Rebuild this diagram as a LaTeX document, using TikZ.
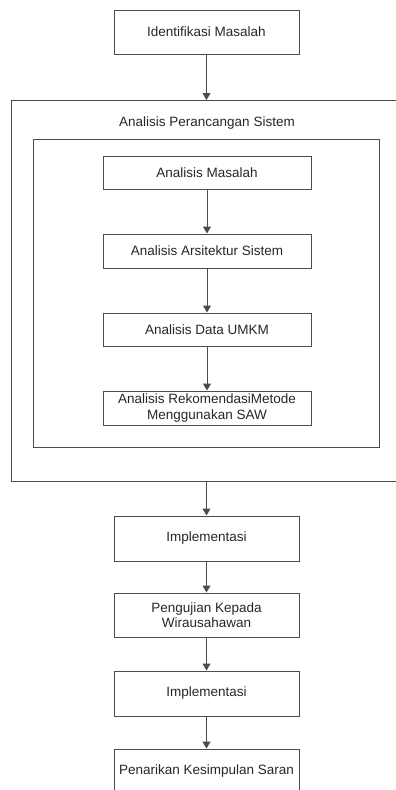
\documentclass[tikz,border=0pt]{standalone}
\usepackage{fontspec}
\setmainfont{Liberation Sans}
\usetikzlibrary{arrows.meta}

\tikzset{
  box/.style={draw=black!70, line width=1pt, align=center, inner sep=0pt,
    minimum width=185pt, text=black!85, font=\fontsize{13.5}{15.5}\selectfont},
  subbox/.style={box, minimum width=208pt, minimum height=34pt},
  frame/.style={draw=black!70, line width=1pt},
  arr/.style={draw=black!70, line width=1pt, -{Triangle[width=8pt,length=7pt]}},
}

\begin{document}
\begin{tikzpicture}[x=1pt,y=-1pt]
\useasboundingbox (0,0) rectangle (396,790);
\clip (0,0) rectangle (396,790);

%top step
\node[box, minimum height=44pt] (idm) at (206.5,32) {Identifikasi Masalah};

%analysis block
\draw[frame] (11,100) rectangle (410,481); %outer
\draw[frame] (33,139) rectangle (379,447); %inner
\node[text=black!85, font=\fontsize{13.5}{15.5}\selectfont] (aps) at (207,123) {Analisis Perancangan Sistem};
\coordinate (apin) at (206.5,100);
\coordinate (apout) at (206.5,481);

\node[subbox, minimum height=33pt] (am) at (207,172.5) {Analisis Masalah};
\node[subbox] (aas) at (207,251) {Analisis Arsitektur Sistem};
\node[subbox, minimum height=33pt] (adu) at (207,329.5) {Analisis Data UMKM};
\node[subbox] (arm) at (207,408) {Analisis RekomendasiMetode\\Menggunakan SAW};

%lower steps
\node[box, minimum height=45pt] (imp1) at (206.5,538.5) {Implementasi};
\node[box, minimum height=44pt] (uji) at (206.5,615) {Pengujian Kepada\\Wirausahawan};
\node[box, minimum height=45pt] (imp2) at (206.5,693.5) {Implementasi};
\node[box, minimum height=45pt] (pks) at (206.5,771.5) {Penarikan Kesimpulan Saran};

%arrows
\draw[arr] (idm) -- (apin);
\draw[arr] (am) -- (aas);
\draw[arr] (aas) -- (adu);
\draw[arr] (adu) -- (arm);
\draw[arr] (apout) -- (imp1);
\draw[arr] (imp1) -- (uji);
\draw[arr] (uji) -- (imp2);
\draw[arr] (imp2) -- (pks);

\end{tikzpicture}
\end{document}
